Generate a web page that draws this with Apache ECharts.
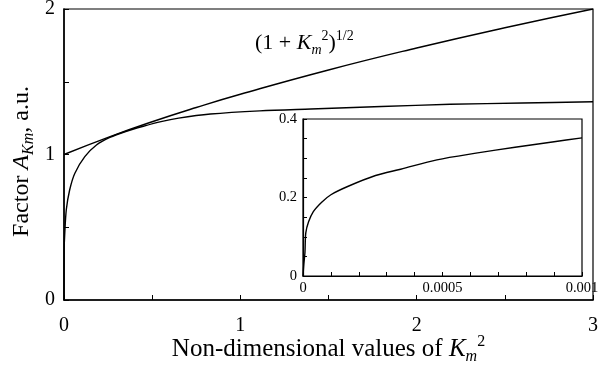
<!DOCTYPE html>
<html>
<head>
<meta charset="utf-8">
<script src="https://cdn.jsdelivr.net/npm/echarts@6/dist/echarts.min.js"></script>
<style>
  html, body { margin: 0; padding: 0; background: #fff; }
  #chart { width: 602px; height: 368px; }
</style>
</head>
<body>
<div id="chart"></div>
<script>
// Main panel: (1 + Km^2)^(1/2) and the factor A_Km against Km^2
const sqrtX = [0, 0.25, 0.5, 0.75, 1, 1.5, 2, 2.5, 3];
const sqrtY = [1, 1.118, 1.225, 1.323, 1.414, 1.581, 1.732, 1.871, 2];

const factorX = [0, 0.001, 0.004, 0.013, 0.032, 0.061, 0.118, 0.184, 0.26, 0.35, 0.45, 0.55, 0.65, 0.83, 1.11, 1.4, 1.8, 2.19, 2.6, 3];
const factorY = [0, 0.35, 0.45, 0.62, 0.756, 0.87, 0.985, 1.065, 1.117, 1.158, 1.194, 1.226, 1.25, 1.278, 1.30, 1.313, 1.33, 1.345, 1.354, 1.363];

// Inset: the factor at very small Km^2
const insetX = [0, 0.000003, 0.000007, 0.00001, 0.00002, 0.000037, 0.000067, 0.0001, 0.00016, 0.00026, 0.00035, 0.00048, 0.00062, 0.00076, 0.0009, 0.001];
const insetY = [0, 0.03, 0.06, 0.11, 0.138, 0.164, 0.188, 0.207, 0.228, 0.256, 0.272, 0.296, 0.313, 0.328, 0.342, 0.352];

// Tick marks and tick labels
const mainXTicks = [0, 0.5, 1, 1.5, 2, 2.5, 3];
const mainXLabels = [0, 1, 2, 3];
const mainYTicks = [0, 0.5, 1, 1.5, 2];
const mainYLabels = [0, 1, 2];
const insetXTicks = [0, 0.0001, 0.0002, 0.0003, 0.0004, 0.0005, 0.0006, 0.0007, 0.0008, 0.0009, 0.001];
const insetXLabels = [0, 0.0005, 0.001];
const insetYTicks = [0, 0.05, 0.1, 0.15, 0.2, 0.25, 0.3, 0.35, 0.4];
const insetYLabels = [0, 0.2, 0.4];

const FONT = "'Liberation Serif', 'Times New Roman', serif";
const pairs = (xs, ys) => xs.map((x, i) => [x, ys[i]]);

const axisBase = (min, max, ticks, labels, fontSize, margin, lw, tickLen) => ({
  type: 'value',
  min: min,
  max: max,
  axisLine: { show: true, lineStyle: { color: '#000', width: lw } },
  axisTick: { show: true, inside: true, length: tickLen, customValues: ticks, lineStyle: { color: '#000', width: 1 } },
  axisLabel: { customValues: labels, color: '#000', fontFamily: FONT, fontSize: fontSize, margin: margin },
  splitLine: { show: false }
});

// rich text styles for italic symbols, subscripts and superscripts
const makeRich = (size) => ({
  t: { fontFamily: FONT, fontSize: size, lineHeight: Math.round(size * 1.25), color: '#000' },
  i: { fontFamily: FONT, fontSize: size, lineHeight: Math.round(size * 1.25), fontStyle: 'italic', color: '#000' },
  sub: { fontFamily: FONT, fontSize: Math.round(size * 0.65), lineHeight: Math.round(size * 0.65), fontStyle: 'italic', verticalAlign: 'bottom', color: '#000' },
  sup: { fontFamily: FONT, fontSize: Math.round(size * 0.65), lineHeight: Math.round(size * 0.65), verticalAlign: 'top', color: '#000' }
});

const chart = echarts.init(document.getElementById('chart'), null, { renderer: 'canvas' });

const xMain = axisBase(0, 3, mainXTicks, mainXLabels, 20, 16, 1.5, 5);
xMain.gridIndex = 0;
xMain.name = '{t|Non-dimensional values of }{i|K}{sub|m}{sup|2}';
xMain.nameLocation = 'middle';
xMain.nameGap = 34;
xMain.nameMoveOverlap = false;
xMain.nameTextStyle = { rich: makeRich(25) };

const yMain = axisBase(0, 2, mainYTicks, mainYLabels, 20, 9, 1.5, 5);
yMain.gridIndex = 0;
yMain.name = '{t|Factor }{i|A}{sub|Km}{t|, a.u.}';
yMain.nameLocation = 'middle';
yMain.nameGap = 27;
yMain.nameMoveOverlap = false;
yMain.nameTextStyle = { rich: makeRich(24), padding: [0, 14, 0, 0] };

const xInset = axisBase(0, 0.001, insetXTicks, insetXLabels, 14.5, 5, 1.2, 4);
xInset.gridIndex = 1;
const yInset = axisBase(0, 0.4, insetYTicks, insetYLabels, 14.5, 6, 1.2, 4);
yInset.gridIndex = 1;

const lineSeries = (data, xi, yi, smooth) => ({
  type: 'line',
  xAxisIndex: xi,
  yAxisIndex: yi,
  data: data,
  showSymbol: false,
  smooth: smooth,
  lineStyle: { color: '#000', width: 1.4 },
  silent: true
});

chart.setOption({
  animation: false,
  backgroundColor: '#fff',
  grid: [
    { left: 64, top: 9, width: 529, height: 291, outerBoundsMode: 'none', containLabel: false, show: true, borderColor: '#000', borderWidth: 1.2 },
    { left: 303, top: 119, width: 279, height: 157, outerBoundsMode: 'none', containLabel: false, show: true, borderColor: '#000', borderWidth: 1.2 }
  ],
  xAxis: [xMain, xInset],
  yAxis: [yMain, yInset],
  series: [
    lineSeries(pairs(sqrtX, sqrtY), 0, 0, 0.5),
    lineSeries(pairs(factorX, factorY), 0, 0, 0.3),
    lineSeries(pairs(insetX, insetY), 1, 1, 0.3)
  ],
  graphic: [
    {
      type: 'text',
      left: 255,
      top: 29,
      style: {
        text: '{t|(1 + }{i|K}{sub|m}{sup|2}{t|)}{sup|1/2}',
        rich: makeRich(22)
      }
    }
  ]
});
</script>
</body>
</html>
